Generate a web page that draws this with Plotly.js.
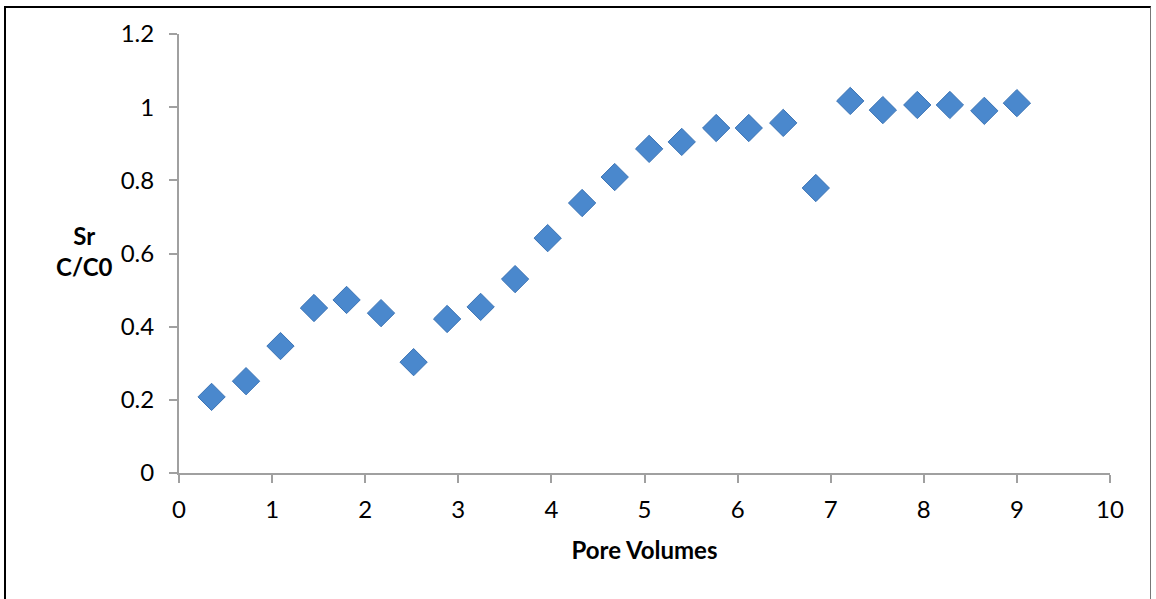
<!DOCTYPE html>
<html>
<head>
<meta charset="utf-8">
<script src="https://cdn.plot.ly/plotly-3.0.1.min.js"></script>
<style>
html,body{margin:0;padding:0;background:#fff;}
#wrap{position:absolute;left:4px;top:6px;width:1147px;height:600px;border-left:2px solid #000;border-top:2px solid #000;border-right:1px solid #777;box-sizing:border-box;}
#chart{position:absolute;left:0;top:0;width:1156px;height:599px;}
</style>
</head>
<body>
<div id="wrap"></div>
<div id="chart"></div>
<script>
const poreVolumes = [0.35, 0.72, 1.09, 1.45, 1.80, 2.17, 2.52, 2.88, 3.24, 3.61, 3.96, 4.33, 4.68, 5.05, 5.40, 5.77, 6.12, 6.49, 6.84, 7.21, 7.56, 7.93, 8.28, 8.65, 9.00];
const srC_C0 = [0.208, 0.251, 0.347, 0.451, 0.473, 0.437, 0.303, 0.421, 0.454, 0.530, 0.642, 0.738, 0.809, 0.886, 0.905, 0.943, 0.943, 0.957, 0.779, 1.017, 0.992, 1.006, 1.006, 0.990, 1.011];
const xTicks = [0,1,2,3,4,5,6,7,8,9,10];
const yTicks = [0,0.2,0.4,0.6,0.8,1,1.2];
const yTickText = ['0','0.2','0.4','0.6','0.8','1','1.2'];

const font = 'Lato, "Open Sans", sans-serif';
const trace = {
  x: poreVolumes, y: srC_C0, type: 'scatter', mode: 'markers',
  marker: {symbol: 'diamond', size: 21, color: '#4a88cd', line: {color: '#3c74b5', width: 1}},
  hoverinfo: 'x+y'
};
const layout = {
  width: 1156, height: 599,
  paper_bgcolor: 'rgba(0,0,0,0)', plot_bgcolor: 'rgba(0,0,0,0)',
  margin: {l: 179, r: 46, t: 34, b: 126},
  showlegend: false,
  font: {family: font, size: 24, color: '#000'},
  xaxis: {
    range: [0, 10], tickvals: xTicks, ticktext: xTicks.map(String),
    showgrid: false, zeroline: false, showline: true, linecolor: '#a0a0a0', linewidth: 2,
    ticks: 'outside', ticklen: 8, tickwidth: 2, tickcolor: '#a0a0a0', ticklabelstandoff: 6,
    tickfont: {family: font, size: 24, color: '#000'},
    title: {text: '<b>Pore Volumes</b>', font: {family: font, size: 24, color: '#000'}, standoff: 20}
  },
  yaxis: {
    range: [0, 1.2], tickvals: yTicks, ticktext: yTickText,
    showgrid: false, zeroline: false, showline: true, linecolor: '#a0a0a0', linewidth: 2,
    ticks: 'outside', ticklen: 8, tickwidth: 2, tickcolor: '#a0a0a0', ticklabelstandoff: 10,
    tickfont: {family: font, size: 24, color: '#000'}
  },
  annotations: [{
    text: '<b>Sr<br>C/C0</b>', xref: 'paper', yref: 'paper', x: -0.102, y: 0.505,
    xanchor: 'center', yanchor: 'middle', showarrow: false,
    font: {family: font, size: 24, color: '#000'}
  }]
};
Plotly.newPlot('chart', [trace], layout, {displayModeBar: false});
</script>
</body>
</html>
